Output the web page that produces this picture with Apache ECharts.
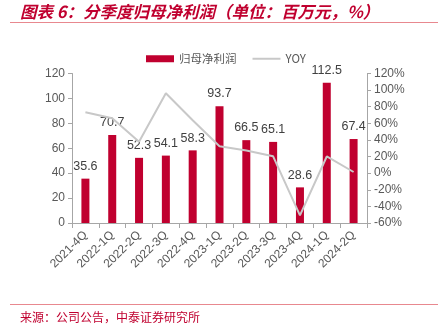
<!DOCTYPE html>
<html><head><meta charset="utf-8">
<script src="https://cdn.jsdelivr.net/npm/echarts@6/dist/echarts.min.js"></script>
<style>html,body{margin:0;padding:0;background:#fff}#c{width:440px;height:326px}</style>
</head><body><div id="c"></div>
<script>
var categories = ['2021-4Q','2022-1Q','2022-2Q','2022-3Q','2022-4Q','2023-1Q','2023-2Q','2023-3Q','2023-4Q','2024-1Q','2024-2Q'];
var profit = [35.6,70.7,52.3,54.1,58.3,93.7,66.5,65.1,28.6,112.5,67.4];
var yoy = [73.3,66.0,37.9,96.2,63.8,32.5,27.2,20.3,-50.9,20.1,1.4];
var leftTicks = [0,120,20];
var rightTicks = [-60,120,20];

var chart = echarts.init(document.getElementById('c'));
var red = '#c0002f';
var font = '"Liberation Sans", Arial, "Noto Sans CJK SC", sans-serif';
chart.setOption({
  animation: false,
  textStyle: {fontFamily: font},
  graphic: [
    {type:'text', left: 20, top: 3, style:{text:'图表 6：分季度归母净利润（单位：百万元，%）', fill: red, font:'italic bold 16.5px "Noto Sans CJK SC", sans-serif'}},
    {type:'rect', shape:{x:10,y:22,width:428,height:1}, style:{fill:'#e8888f'}},
    {type:'rect', shape:{x:10,y:304,width:428,height:1}, style:{fill:'#e8888f'}},
    {type:'text', left: 20, top: 311, style:{text:'来源：公司公告，中泰证券研究所', fill: red, font:'12px "Noto Sans CJK SC", sans-serif'}}
  ],
  legend: {
    top: 48, left: 141, itemGap: 16, itemWidth: 28, itemHeight: 7,
    textStyle: {color:'#595959', fontSize: 11.5, fontFamily: '"Noto Sans CJK SC", serif'},
    data: [{name:'归母净利润', icon:'rect'}, {name:'YOY', icon:'path://M0,0 L28,0 L28,2 L0,2 Z'}]
  },
  grid: {left: 72, right: 73, top: 73.5, bottom: 103, containLabel: false},
  xAxis: {
    type: 'category', data: categories, boundaryGap: true,
    axisLine: {lineStyle: {color: '#a6a6a6'}},
    axisTick: {show: true, alignWithLabel: false, length: 5, lineStyle:{color:'#a6a6a6'}},
    axisLabel: {rotate: 45, color: '#595959', fontSize: 12, interval: 0, margin: 10}
  },
  yAxis: [
    {type:'value', min: leftTicks[0], max: leftTicks[1], interval: leftTicks[2],
     axisLine:{show:true, lineStyle:{color:'#a6a6a6'}},
     axisTick:{show:true, length:4, lineStyle:{color:'#a6a6a6'}},
     splitLine:{show:false},
     axisLabel:{color:'#595959', fontSize: 12, margin: 7}},
    {type:'value', min: rightTicks[0], max: rightTicks[1], interval: rightTicks[2],
     axisLine:{show:true, lineStyle:{color:'#a6a6a6'}},
     axisTick:{show:true, length:4, lineStyle:{color:'#a6a6a6'}},
     splitLine:{show:false},
     axisLabel:{color:'#595959', fontSize: 12, margin: 7, formatter: '{value}%'}}
  ],
  series: [
    {name:'归母净利润', type:'bar', data: profit, barWidth: 8, itemStyle:{color: red},
     label:{show:true, position:'top', color:'#404040', fontSize: 12.5, distance: 6}},
    {name:'YOY', type:'line', yAxisIndex: 1, data: yoy, symbol:'none',
     lineStyle:{color:'#c8c8c8', width: 2}, itemStyle:{color:'#c8c8c8'}}
  ]
});
</script></body></html>
